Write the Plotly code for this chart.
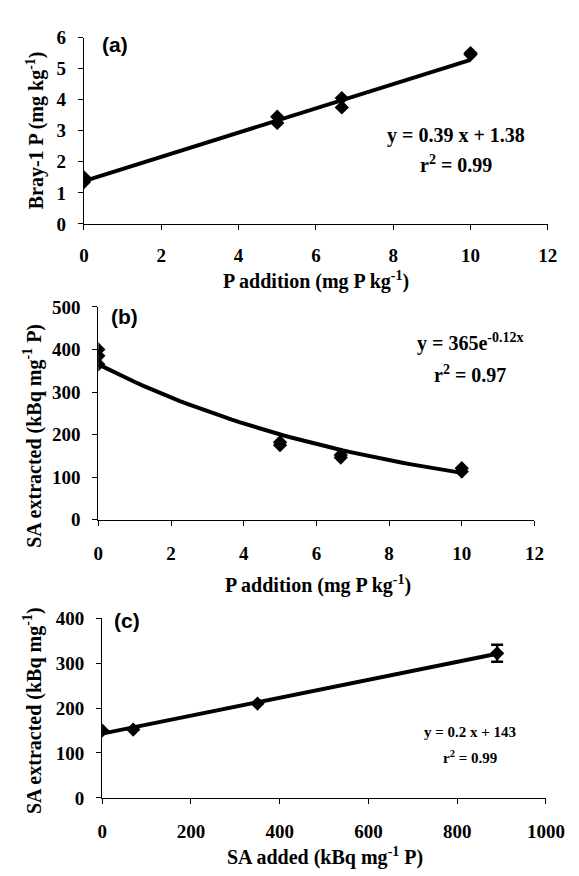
import numpy as np
import plotly.graph_objects as go

# ---------------- data ----------------
# (a) Bray-1 P vs P addition
a_x = [0, 0, 0, 5, 5, 6.67, 6.67, 10, 10]
a_y = [1.5, 1.4, 1.35, 3.45, 3.25, 4.05, 3.75, 5.5, 5.45]
a_slope, a_icpt = 0.39, 1.38

# (b) SA extracted vs P addition
b_x = [0, 0, 0, 5, 5, 6.67, 6.67, 10, 10]
b_y = [400, 385, 365, 182, 175, 152, 146, 121, 113]
b_coef, b_rate = 365, -0.12

# (c) SA extracted vs SA added
c_x = [0, 70, 350, 890]
c_y = [150, 152, 210, 322]
c_err = [0, 0, 0, 19]
c_slope, c_icpt = 0.2, 143

W, H = 579, 876
SERIF = "Liberation Serif, Times New Roman, serif"
SANS = "Liberation Sans, Arial, sans-serif"


def px(x):
    return x / W


def py(y):
    return 1 - y / H


fig = go.Figure()

marker = dict(symbol="diamond", size=11, color="black")
line = dict(color="black", width=4)

# panel a
fx = np.linspace(0, 10, 50)
fig.add_trace(go.Scatter(x=fx, y=a_slope * fx + a_icpt, mode="lines", line=line,
                         xaxis="x", yaxis="y", showlegend=False))
fig.add_trace(go.Scatter(x=a_x, y=a_y, mode="markers", marker=marker,
                         xaxis="x", yaxis="y", showlegend=False))
# panel b
fig.add_trace(go.Scatter(x=fx, y=b_coef * np.exp(b_rate * fx), mode="lines", line=line,
                         xaxis="x2", yaxis="y2", showlegend=False))
fig.add_trace(go.Scatter(x=b_x, y=b_y, mode="markers", marker=marker,
                         xaxis="x2", yaxis="y2", showlegend=False))
# panel c
cx = np.linspace(0, 890, 50)
fig.add_trace(go.Scatter(x=cx, y=c_slope * cx + c_icpt, mode="lines", line=line,
                         xaxis="x3", yaxis="y3", showlegend=False))
fig.add_trace(go.Scatter(x=c_x, y=c_y, mode="markers", marker=marker,
                         error_y=dict(type="data", array=c_err, visible=True,
                                      color="black", thickness=2.5, width=6),
                         xaxis="x3", yaxis="y3", showlegend=False))

tickfont = dict(family=SERIF, size=19, color="black", weight="bold")


def xax(dom, anchor, rng, dtick, standoff):
    return dict(domain=dom, anchor=anchor, range=rng, dtick=dtick, tick0=0,
                showline=True, linecolor="black", linewidth=1.2,
                ticks="outside", ticklen=5, tickcolor="black",
                showgrid=False, zeroline=False, tickfont=tickfont,
                ticklabelstandoff=standoff)


def yax(dom, anchor, rng, dtick):
    return dict(domain=dom, anchor=anchor, range=rng, dtick=dtick, tick0=0,
                showline=True, linecolor="black", linewidth=1.2,
                ticks="outside", ticklen=5, tickcolor="black",
                showgrid=False, zeroline=False, tickfont=tickfont,
                ticklabelstandoff=8)


fig.update_layout(
    width=W, height=H,
    margin=dict(l=0, r=0, t=0, b=0),
    paper_bgcolor="white", plot_bgcolor="white",
    font=dict(family=SERIF, color="black"),
    xaxis=xax([px(74), px(558)], "y", [0, 12], 2, 9),
    yaxis=yax([py(211), py(20)], "x", [0, 6], 1),
    xaxis2=xax([px(89), px(544)], "y2", [0, 12], 2, 11),
    yaxis2=yax([py(514), py(296)], "x2", [0, 500], 100),
    xaxis3=xax([px(93), px(556)], "y3", [0, 1000], 200, 11),
    yaxis3=yax([py(799), py(615)], "x3", [0, 400], 100),
)

tf = dict(family=SERIF, size=20, color="black")
ef = dict(family=SERIF, size=20, color="black")
pf = dict(family=SANS, size=21, color="black")
ann = [
    # axis titles
    dict(x=px(316), y=py(269), text="<b>P addition (mg P kg<sup>-1</sup>)</b>", font=tf),
    dict(x=px(23), y=py(115), text="<b>Bray-1 P (mg kg<sup>-1</sup>)</b>", font=tf, textangle=-90),
    dict(x=px(318), y=py(580), text="<b>P addition (mg P kg<sup>-1</sup>)</b>", font=tf),
    dict(x=px(21), y=py(428), text="<b>SA extracted (kBq mg<sup>-1</sup> P)</b>", font=tf, textangle=-90),
    dict(x=px(325), y=py(859), text="<b>SA added (kBq mg<sup>-1</sup> P)</b>", font=tf),
    dict(x=px(21), y=py(710), text="<b>SA extracted (kBq mg<sup>-1</sup>)</b>", font=tf, textangle=-90),
    # panel labels
    dict(x=px(106), y=py(27), text="<b>(a)</b>", font=pf),
    dict(x=px(116), y=py(306), text="<b>(b)</b>", font=pf),
    dict(x=px(119), y=py(617), text="<b>(c)</b>", font=pf),
    # equations
    dict(x=px(462), y=py(120), text="<b>y = 0.39 x + 1.38</b>", font=ef),
    dict(x=px(462), y=py(150), text="<b>r<sup>2</sup> = 0.99</b>", font=ef),
    dict(x=px(477), y=py(332), text="<b>y = 365e<sup>-0.12x</sup></b>", font=ef),
    dict(x=px(477), y=py(365), text="<b>r<sup>2</sup> = 0.97</b>", font=ef),
    dict(x=px(477), y=py(732), text="<b>y = 0.2 x + 143</b>", font=dict(family=SERIF, size=15, color="black")),
    dict(x=px(477), y=py(757), text="<b>r<sup>2</sup> = 0.99</b>", font=dict(family=SERIF, size=15, color="black")),
]
for a in ann:
    a.update(xref="paper", yref="paper", showarrow=False, xanchor="center", yanchor="middle")
fig.update_layout(annotations=ann)

fig.write_html("out.html")
